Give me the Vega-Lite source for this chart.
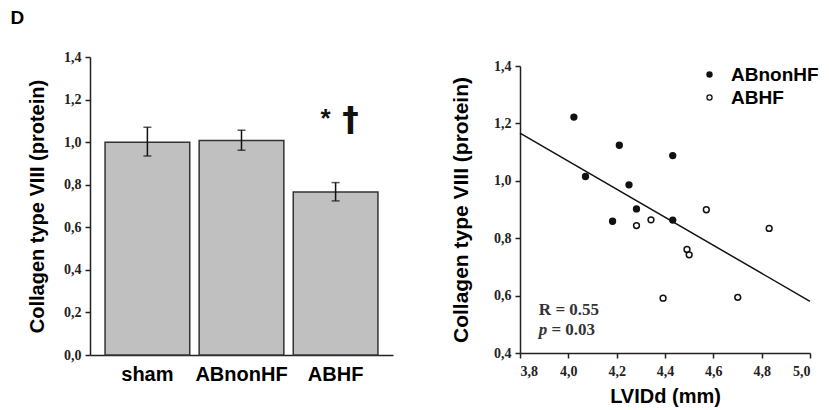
{
  "$schema": "https://vega.github.io/schema/vega-lite/v6.json",
  "padding": {"left": 10, "top": 9, "right": 5, "bottom": 5},
  "background": "white",
  "title": {"text": "D", "anchor": "start", "frame": "bounds", "font": "Liberation Sans", "fontSize": 19, "fontWeight": "bold", "color": "black", "offset": 22, "dx": -17},
  "spacing": 57,
  "resolve": {"legend": {"fill": "independent"}},
  "config": {
    "view": {"stroke": null},
    "axis": {"grid": false, "domainColor": "#222", "domainWidth": 1.5, "tickColor": "#222", "tickWidth": 1.5, "tickSize": 5, "labelColor": "#222", "labelFont": "Liberation Serif", "labelFontWeight": "bold", "labelFontSize": 14, "titleFont": "Liberation Sans", "titleFontWeight": "bold", "titleColor": "black"}
  },
  "hconcat": [
    {
      "width": 303,
      "height": 298,
      "data": {"values": [
        {"group": "sham", "mean": 1.0, "lower": 0.935, "upper": 1.07},
        {"group": "ABnonHF", "mean": 1.008, "lower": 0.962, "upper": 1.056},
        {"group": "ABHF", "mean": 0.766, "lower": 0.724, "upper": 0.81}
      ]},
      "encoding": {
        "x": {"field": "group", "type": "nominal", "sort": ["sham", "ABnonHF", "ABHF"], "scale": {"paddingInner": 0.1, "paddingOuter": 0.16},
          "axis": {"title": null, "labelAngle": 0, "ticks": false, "tickSize": 0, "labelPadding": 9, "labelFont": "Liberation Sans", "labelFontSize": 20, "labelColor": "black"}}
      },
      "layer": [
        {"mark": {"type": "bar", "fill": "#c0c0c0", "stroke": "#333", "strokeWidth": 1.5},
          "encoding": {"y": {"field": "mean", "type": "quantitative", "title": "Collagen type VIII (protein)", "scale": {"domain": [0, 1.4]},
            "axis": {"values": [0, 0.2, 0.4, 0.6, 0.8, 1.0, 1.2, 1.4], "labelExpr": "replace(format(datum.value, '.1f'), '.', ',')", "titleFontSize": 20, "titlePadding": 16, "labelPadding": 4}}}},
        {"mark": {"type": "rule", "color": "#111", "strokeWidth": 1.5},
          "encoding": {"y": {"field": "lower", "type": "quantitative", "title": "Collagen type VIII (protein)"}, "y2": {"field": "upper"}}},
        {"mark": {"type": "tick", "color": "#111", "size": 8, "thickness": 1.5},
          "encoding": {"y": {"field": "lower", "type": "quantitative", "title": "Collagen type VIII (protein)"}}},
        {"mark": {"type": "tick", "color": "#111", "size": 8, "thickness": 1.5},
          "encoding": {"y": {"field": "upper", "type": "quantitative", "title": "Collagen type VIII (protein)"}}},
        {"data": {"values": [{"group": "ABHF", "label": "*", "v": 1.108}]},
          "mark": {"type": "text", "dx": -10, "font": "Liberation Sans", "fontWeight": "bold", "fontSize": 26, "baseline": "middle", "color": "#111"},
          "encoding": {"text": {"field": "label"}, "y": {"field": "v", "type": "quantitative", "title": "Collagen type VIII (protein)"}}},
        {"data": {"values": [{"group": "ABHF", "label": "†", "v": 1.1}]},
          "mark": {"type": "text", "dx": 15, "font": "DejaVu Sans", "fontWeight": "bold", "fontSize": 33, "baseline": "middle", "color": "#111"},
          "encoding": {"text": {"field": "label"}, "y": {"field": "v", "type": "quantitative", "title": "Collagen type VIII (protein)"}}}
      ]
    },
    {
      "spacing": -4,
      "resolve": {"legend": {"fill": "independent"}},
      "vconcat": [
        {
          "width": 290,
          "height": 1,
          "data": {"values": [{"t": ""}]},
          "mark": {"type": "text"},
          "encoding": {"text": {"field": "t"}}
        },
        {
          "width": 290,
          "height": 287,
          "layer": [
            {"data": {"values": [{"x": 3.8, "y": 1.166}, {"x": 5.0, "y": 0.58}]},
              "mark": {"type": "line", "color": "#111", "strokeWidth": 1.5},
              "encoding": {
                "x": {"field": "x", "type": "quantitative", "title": "LVIDd (mm)", "scale": {"domain": [3.8, 5.0]},
                  "axis": {"values": [3.8, 4.0, 4.2, 4.4, 4.6, 4.8, 5.0], "labelExpr": "replace(format(datum.value, '.1f'), '.', ',')", "titleFontSize": 20, "labelPadding": 6, "titlePadding": 8}},
                "y": {"field": "y", "type": "quantitative", "title": "Collagen type VIII (protein)", "scale": {"domain": [0.4, 1.4]},
                  "axis": {"values": [0.4, 0.6, 0.8, 1.0, 1.2, 1.4], "labelExpr": "replace(format(datum.value, '.1f'), '.', ',')", "titleFontSize": 21, "titlePadding": 22, "labelPadding": 4}}
              }},
            {"data": {"values": [
              {"group": "ABnonHF", "x": 4.023, "y": 1.222},
              {"group": "ABnonHF", "x": 4.071, "y": 1.015},
              {"group": "ABnonHF", "x": 4.211, "y": 1.124},
              {"group": "ABnonHF", "x": 4.183, "y": 0.859},
              {"group": "ABnonHF", "x": 4.251, "y": 0.986},
              {"group": "ABnonHF", "x": 4.282, "y": 0.902},
              {"group": "ABnonHF", "x": 4.432, "y": 1.088},
              {"group": "ABnonHF", "x": 4.432, "y": 0.863},
              {"group": "ABHF", "x": 4.282, "y": 0.844},
              {"group": "ABHF", "x": 4.342, "y": 0.864},
              {"group": "ABHF", "x": 4.392, "y": 0.591},
              {"group": "ABHF", "x": 4.491, "y": 0.761},
              {"group": "ABHF", "x": 4.5, "y": 0.742},
              {"group": "ABHF", "x": 4.571, "y": 0.899},
              {"group": "ABHF", "x": 4.701, "y": 0.594},
              {"group": "ABHF", "x": 4.831, "y": 0.834}
            ]},
              "mark": {"type": "circle", "stroke": "#111", "strokeWidth": 1.5, "size": 34, "opacity": 1},
              "encoding": {
                "x": {"field": "x", "type": "quantitative"},
                "y": {"field": "y", "type": "quantitative"},
                "fill": {"field": "group", "type": "nominal", "scale": {"domain": ["ABnonHF", "ABHF"], "range": ["#111", "white"]},
                  "legend": {"title": null, "orient": "none", "legendX": 180, "legendY": -1, "symbolType": "circle", "symbolSize": 26, "symbolStrokeColor": "#111", "symbolStrokeWidth": 1.3, "labelFont": "Liberation Sans", "labelFontWeight": "bold", "labelFontSize": 19, "labelColor": "black", "labelOffset": 12, "rowPadding": 3}}
              }},
            {"data": {"values": [{"x": 3.878, "y": 0.533, "t": "R = 0.55"}, {"x": 3.93, "y": 0.464, "t": "= 0.03"}]},
              "mark": {"type": "text", "align": "left", "baseline": "alphabetic", "font": "Liberation Serif", "fontWeight": "bold", "fontSize": 17, "color": "#333"},
              "encoding": {"x": {"field": "x", "type": "quantitative"}, "y": {"field": "y", "type": "quantitative"}, "text": {"field": "t"}}},
            {"data": {"values": [{"x": 3.878, "y": 0.464, "t": "p"}]},
              "mark": {"type": "text", "align": "left", "baseline": "alphabetic", "font": "Liberation Serif", "fontWeight": "bold", "fontStyle": "italic", "fontSize": 17, "color": "#333"},
              "encoding": {"x": {"field": "x", "type": "quantitative"}, "y": {"field": "y", "type": "quantitative"}, "text": {"field": "t"}}}
          ]
        }
      ]
    }
  ]
}
